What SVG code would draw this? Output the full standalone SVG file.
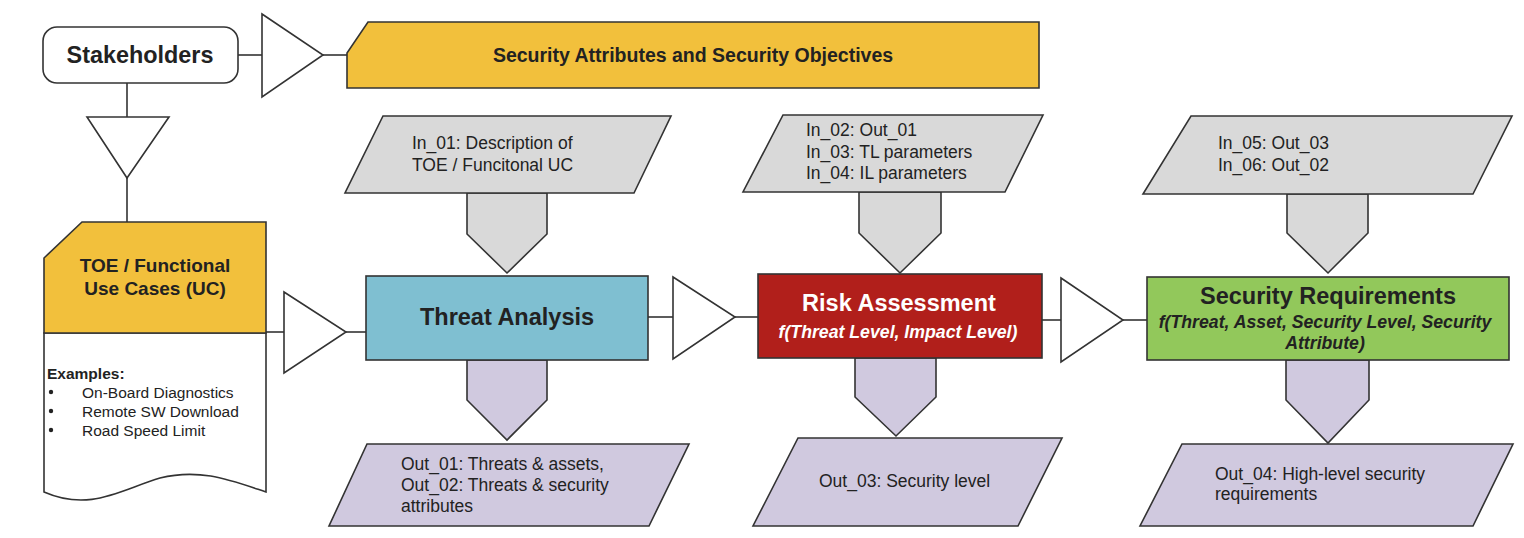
<svg xmlns="http://www.w3.org/2000/svg" width="1524" height="538" viewBox="0 0 1524 538">
<style>
.s{stroke:#333;stroke-width:1.6;}
.ln{stroke:#333;stroke-width:1.6;fill:none;}
.tri{fill:#fff;stroke:#333;stroke-width:1.6;}
.yel{fill:#f2c03c;}
.gry{fill:#d9d9d9;}
.pur{fill:#d0c9df;}
.t{font-family:"Liberation Sans",Arial,sans-serif;fill:#222;}
.b{font-weight:bold;}
.n{font-size:17.5px;}
.h{font-size:23.5px;font-weight:bold;}
.f{font-size:17.7px;font-weight:bold;font-style:italic;}
</style>
<rect width="1524" height="538" fill="#fff"/>
<g id="connectors">
<line class="ln" x1="238" y1="55" x2="262" y2="55"/>
<polygon class="tri" points="262,14 323,55 262,97"/>
<line class="ln" x1="323" y1="55" x2="347" y2="55"/>
<line class="ln" x1="127" y1="83" x2="127" y2="117"/>
<polygon class="tri" points="87,117 169,117 127,178"/>
<line class="ln" x1="127" y1="178" x2="127" y2="222"/>
<line class="ln" x1="266" y1="332" x2="284" y2="332"/>
<polygon class="tri" points="284,292 346,332 284,373"/>
<line class="ln" x1="346" y1="332" x2="366" y2="332"/>
<line class="ln" x1="648" y1="317" x2="673" y2="317"/>
<polygon class="tri" points="673,277 735,317 673,359"/>
<line class="ln" x1="735" y1="317" x2="758" y2="317"/>
<line class="ln" x1="1042" y1="320" x2="1061" y2="320"/>
<polygon class="tri" points="1061,278 1123,320 1061,362"/>
<line class="ln" x1="1123" y1="320" x2="1147" y2="320"/>
<polygon class="gry s" points="467,193 547,193 547,234 507,273 467,234"/>
<polygon class="pur s" points="467,360 547,360 547,400 507,440 467,400"/>
<polygon class="gry s" points="859,192 941,192 941,233 900,273 859,233"/>
<polygon class="pur s" points="855,358 936,358 936,397 896,436 855,397"/>
<polygon class="gry s" points="1287,194 1368,194 1368,233 1328,273 1287,233"/>
<polygon class="pur s" points="1286,360 1369,360 1369,400 1328,443 1286,400"/>
</g>
<g id="stakeholders">
<rect class="s" x="43" y="27" width="195" height="56" rx="14" fill="#fff"/>
<text class="t b" x="140" y="63" font-size="23.4" text-anchor="middle">Stakeholders</text>
</g>
<g id="security-attributes">
<polygon class="yel s" points="368,22 1039,22 1039,88 347,88 347,53"/>
<text class="t b" x="693" y="62" font-size="19.5" text-anchor="middle">Security Attributes and Security Objectives</text>
</g>
<g id="toe">
<path class="s" fill="#fff" d="M44,333 L266,333 L266,492 C230,480 200,468 160,478 C120,490 90,512 44,492 Z"/>
<polygon class="yel s" points="82,222 266,222 266,333 44,333 44,258"/>
<text class="t b" x="155" y="272" font-size="19" text-anchor="middle">TOE / Functional</text>
<text class="t b" x="155" y="295" font-size="19" text-anchor="middle">Use Cases (UC)</text>
<text class="t b" x="47" y="378.5" font-size="15.5">Examples:</text>
<circle cx="51" cy="392" r="2.2" fill="#222"/>
<circle cx="51" cy="411" r="2.2" fill="#222"/>
<circle cx="51" cy="430" r="2.2" fill="#222"/>
<text class="t" x="82" y="397.5" font-size="15.5">On-Board Diagnostics</text>
<text class="t" x="82" y="416.5" font-size="15.5">Remote SW Download</text>
<text class="t" x="82" y="435.5" font-size="15.5">Road Speed Limit</text>
</g>
<g id="in1">
<polygon class="gry s" points="383,116 671,116 634,193 345,193"/>
<text class="t n" x="412" y="149">In_01: Description of</text>
<text class="t n" x="412" y="171">TOE / Funcitonal UC</text>
</g>
<g id="threat-analysis">
<rect class="s" x="366" y="276" width="282" height="84" fill="#7fbfd1"/>
<text class="t h" x="507" y="325" text-anchor="middle">Threat Analysis</text>
</g>
<g id="out1">
<polygon class="pur s" points="367,444 689,444 649,526 329,526"/>
<text class="t n" x="401" y="470">Out_01: Threats &amp; assets,</text>
<text class="t n" x="401" y="491">Out_02: Threats &amp; security</text>
<text class="t n" x="401" y="512">attributes</text>
</g>
<g id="in2">
<polygon class="gry s" points="783,115 1043,115 1005,192 743,192"/>
<text class="t n" x="806" y="136">In_02: Out_01</text>
<text class="t n" x="806" y="158">In_03: TL parameters</text>
<text class="t n" x="806" y="179">In_04: IL parameters</text>
</g>
<g id="risk-assessment">
<rect class="s" x="758" y="274" width="284" height="84" fill="#b11f1b"/>
<text class="t h" x="899" y="311" text-anchor="middle" style="fill:#fff">Risk Assessment</text>
<text class="t f" x="898" y="338" text-anchor="middle" style="fill:#fff">f(Threat Level, Impact Level)</text>
</g>
<g id="out3">
<polygon class="pur s" points="798,438 1062,438 1018,526 753,526"/>
<text class="t n" x="819" y="487">Out_03: Security level</text>
</g>
<g id="in3">
<polygon class="gry s" points="1191,116 1512,116 1473,194 1143,194"/>
<text class="t n" x="1218" y="149">In_05: Out_03</text>
<text class="t n" x="1218" y="171">In_06: Out_02</text>
</g>
<g id="security-requirements">
<rect class="s" x="1147" y="277" width="362" height="83" fill="#92c85b"/>
<text class="t h" x="1328" y="304" text-anchor="middle">Security Requirements</text>
<text class="t f" x="1325" y="328" text-anchor="middle">f(Threat, Asset, Security Level, Security</text>
<text class="t f" x="1325" y="349" text-anchor="middle">Attribute)</text>
</g>
<g id="out4">
<polygon class="pur s" points="1182,444 1513,444 1473,526 1140,526"/>
<text class="t n" x="1215" y="480">Out_04: High-level security</text>
<text class="t n" x="1215" y="500">requirements</text>
</g>
</svg>
